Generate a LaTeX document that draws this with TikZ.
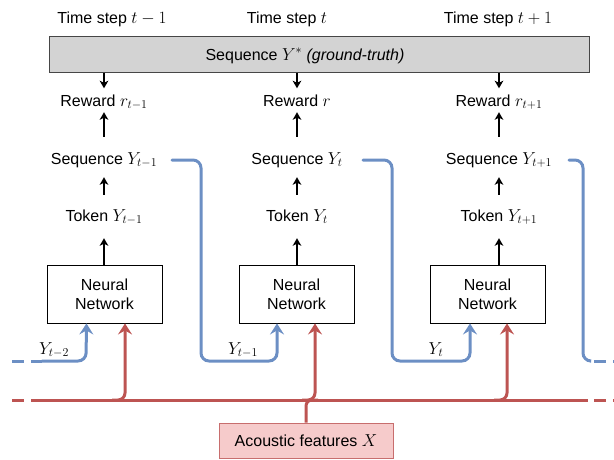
\documentclass[tikz,border=0pt]{standalone}
\usepackage{fontspec}
\setmainfont{Liberation Sans}
\DeclareMathSizes{16}{17}{12.5}{10}
\usetikzlibrary{arrows.meta}
\definecolor{gtfill}{RGB}{211,211,211}
\definecolor{gtdraw}{RGB}{70,70,70}
\definecolor{bl}{RGB}{108,143,196}
\definecolor{rd}{RGB}{189,84,82}
\definecolor{pinkf}{RGB}{246,203,203}
\definecolor{pinkd}{RGB}{200,110,110}
\begin{document}
\begin{tikzpicture}[x=1pt,y=-1pt,
  lbl/.style={font=\fontsize{16}{19}\selectfont, inner sep=0pt, text height=11.5pt, text depth=3.5pt},
  nnbox/.style={draw=black, line width=0.9pt, fill=white, minimum width=115pt, minimum height=58pt, align=center, font=\fontsize{16}{19}\selectfont, inner sep=0pt},
  gtbox/.style={draw=gtdraw, fill=gtfill, line width=1pt, minimum width=540pt, minimum height=36pt, inner sep=0pt},
  acbox/.style={draw=pinkd, fill=pinkf, line width=0.9pt, minimum width=174pt, minimum height=35pt, inner sep=0pt, font=\fontsize{16}{19}\selectfont},
  arr/.style={line width=1.4pt, -{Stealth[length=7.5pt,width=8.5pt,inset=2pt]}},
  bluel/.style={draw=bl, line width=3pt, line cap=round},
  redl/.style={draw=rd, line width=3pt},
  carr/.style={-{Stealth[length=11pt,width=14pt,inset=4pt]}},
  dsh/.style={dash pattern=on 12pt off 7pt, line cap=butt}
]
\useasboundingbox (0,0) rectangle (614,459);

% time step labels
\node[lbl] (ts1) at (112,19) {Time step $t-1$};
\node[lbl] (ts2) at (287,19) {Time step $t$};
\node[lbl] (ts3) at (498,19) {Time step $t+1$};

% ground truth box
\node[gtbox] (gt) at (319,54) {};
\node[lbl] (gtl) at (305,56) {Sequence $Y^{*}$ \textit{(ground-truth)}};

% columns
\foreach \i/\x/\rt/\st/\tt in {1/104/{r_{t-1}}/{Y_{t-1}}/{Y_{t-1}}, 2/297/{r}/{Y_t}/{Y_t}, 3/499/{r_{t+1}}/{Y_{t+1}}/{Y_{t+1}}}{
  \node[lbl] (rew\i) at (\x,102) {Reward $\rt$};
  \node[lbl] (seq\i) at (\x,160) {Sequence $\st$};
  \node[lbl] (tok\i) at (\x,217) {Token $\tt$};
}
\node[nnbox] (nn1) at (104.5,294) {Neural\\Network};
\node[nnbox] (nn2) at (296.5,294) {Neural\\Network};
\node[nnbox] (nn3) at (487.5,294) {Neural\\Network};

\foreach \i in {1,2,3}{
  \draw[arr, shorten >=6pt] (gt.south -| rew\i) -- (rew\i.north);
  \draw[arr, shorten <=15.5pt, shorten >=2.5pt] (seq\i.north) -- (rew\i.south);
  \draw[arr, shorten <=14.5pt, shorten >=9.5pt] (tok\i.north) -- (seq\i.south);
  \draw[arr, shorten >=13.5pt] (nn\i.north -| tok\i) -- (tok\i.south);
}

% acoustic box
\node[acbox] (ac) at (306,440.5) {Acoustic features $X$};

% blue feedback lines
\coordinate (b0) at (12,361);
\coordinate (b1) at (172,160);
\coordinate (b2) at (363,160);
\coordinate (b3) at (569,160);
\coordinate (bend) at (614,361);
\draw[bluel, dsh] (b0) -- (42,361);
\draw[bluel, rounded corners=8pt, carr] (42,361) -- (86,361) -- ([xshift=-18pt]nn1.south);
\draw[bluel, rounded corners=8pt, carr] (b1) -- (201,160) -- (201,361) -- (277,361) -- ([xshift=-19.5pt]nn2.south);
\draw[bluel, rounded corners=8pt, carr] (b2) -- (392,160) -- (392,361) -- (470,361) -- ([xshift=-17.5pt]nn3.south);
\draw[bluel, rounded corners=8pt] (b3) -- (583,160) -- (583,361) -- (590,361);
\draw[bluel, dsh] (594,361) -- (bend);

% blue labels
\node[lbl] (yl1) at (54,350) {$Y_{t-2}$};
\node[lbl] (yl2) at (243,350) {$Y_{t-1}$};
\node[lbl] (yl3) at (436,350) {$Y_t$};

% red lines
\coordinate (r0) at (12,400);
\coordinate (rend) at (614,400);
\draw[redl, dsh] (r0) -- (43,400);
\draw[redl] (43,400) -- (588,400);
\draw[redl, dsh] (594,400) -- (rend);
\draw[redl, rounded corners=7pt, carr] (112,400) -- (125,400) -- ([xshift=20.5pt]nn1.south);
\draw[redl, rounded corners=7pt, carr] (302,400) -- (315,400) -- ([xshift=18.5pt]nn2.south);
\draw[redl, rounded corners=7pt, carr] (494,400) -- (507,400) -- ([xshift=19.5pt]nn3.south);
\draw[redl, rounded corners=6pt] (ac.north) |- (318,400);
\end{tikzpicture}
\end{document}
